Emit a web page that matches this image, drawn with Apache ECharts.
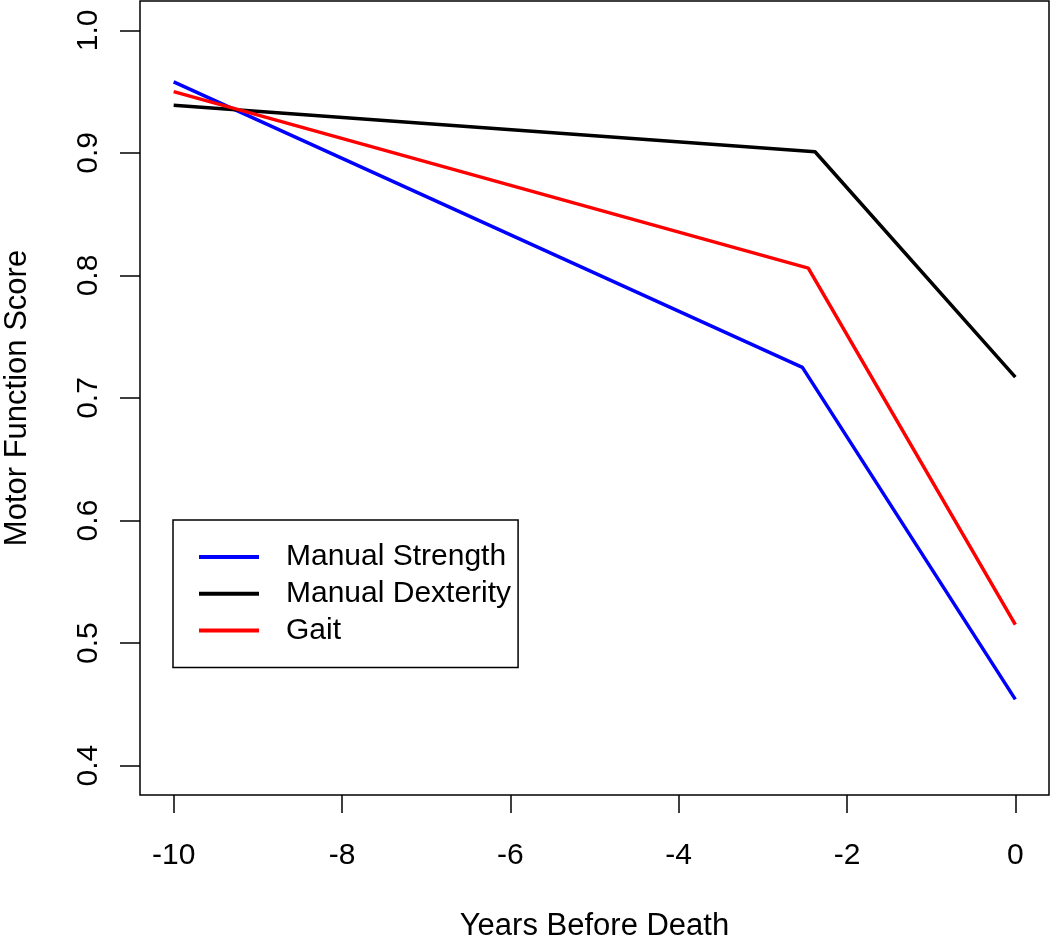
<!DOCTYPE html>
<html><head><meta charset="utf-8">
<script src="https://cdn.jsdelivr.net/npm/echarts@6/dist/echarts.min.js"></script>
<style>html,body{margin:0;padding:0;background:#fff}#c{width:1050px;height:939px}</style>
</head><body><div id="c"></div>
<script>
const seriesNames = ["Manual Strength", "Manual Dexterity", "Gait"];
const seriesColors = ["#0000ff", "#000000", "#ff0000"];
const strength = [[-10, 0.958], [-2.53, 0.725], [0, 0.454]];
const dexterity = [[-10, 0.939], [-2.38, 0.901], [0, 0.717]];
const gait = [[-10, 0.950], [-2.46, 0.806], [0, 0.515]];
const xTicks = [-10, -8, -6, -4, -2, 0];
const yTicks = [0.4, 0.5, 0.6, 0.7, 0.8, 0.9, 1.0];
const xTitle = "Years Before Death";
const yTitle = "Motor Function Score";

const FONT = "'Liberation Sans', Arial, Helvetica, sans-serif";
const chart = echarts.init(document.getElementById('c'), null, {renderer: 'canvas'});
const data = [strength, dexterity, gait];
chart.setOption({
  animation: false,
  backgroundColor: '#fff',
  grid: {left: 140, right: 1, top: 1, bottom: 144, show: true, borderColor: '#000', borderWidth: 1.5, backgroundColor: 'transparent', outerBoundsMode: 'none', containLabel: false},
  xAxis: {
    type: 'value', min: -10.4, max: 0.4,
    name: xTitle, nameLocation: 'middle', nameGap: 116,
    nameTextStyle: {fontFamily: FONT, fontSize: 31, color: '#000'},
    axisLine: {show: false, onZero: false},
    splitLine: {show: false},
    axisTick: {show: true, customValues: xTicks, length: 18, lineStyle: {color: '#000', width: 1.5}},
    axisLabel: {customValues: xTicks, fontFamily: FONT, fontSize: 30, color: '#000', margin: 46, formatter: v => String(v)}
  },
  yAxis: {
    type: 'value', min: 0.376, max: 1.024,
    name: yTitle, nameLocation: 'middle', nameGap: 107, nameRotate: 90,
    nameTextStyle: {fontFamily: FONT, fontSize: 31, color: '#000'},
    axisLine: {show: false, onZero: false},
    splitLine: {show: false},
    axisTick: {show: true, customValues: yTicks, length: 20, lineStyle: {color: '#000', width: 1.5}},
    axisLabel: {customValues: yTicks, rotate: 90, fontFamily: FONT, fontSize: 30, color: '#000', margin: 36, formatter: v => v.toFixed(1)}
  },
  legend: {
    orient: 'vertical', left: 173, top: 520,
    data: seriesNames,
    icon: 'rect', itemWidth: 60, itemHeight: 4, itemGap: 6.7,
    padding: [22, 7, 22, 26],
    borderColor: '#000', borderWidth: 1.5, borderRadius: 0,
    textStyle: {fontFamily: FONT, fontSize: 30, color: '#000', lineHeight: 30, padding: [0, 0, 0, 22]}
  },
  series: data.map((d, i) => ({
    name: seriesNames[i], type: 'line', data: d, showSymbol: false, symbol: 'none',
    color: seriesColors[i],
    lineStyle: {width: 3.5, color: seriesColors[i]}
  }))
});
</script></body></html>
